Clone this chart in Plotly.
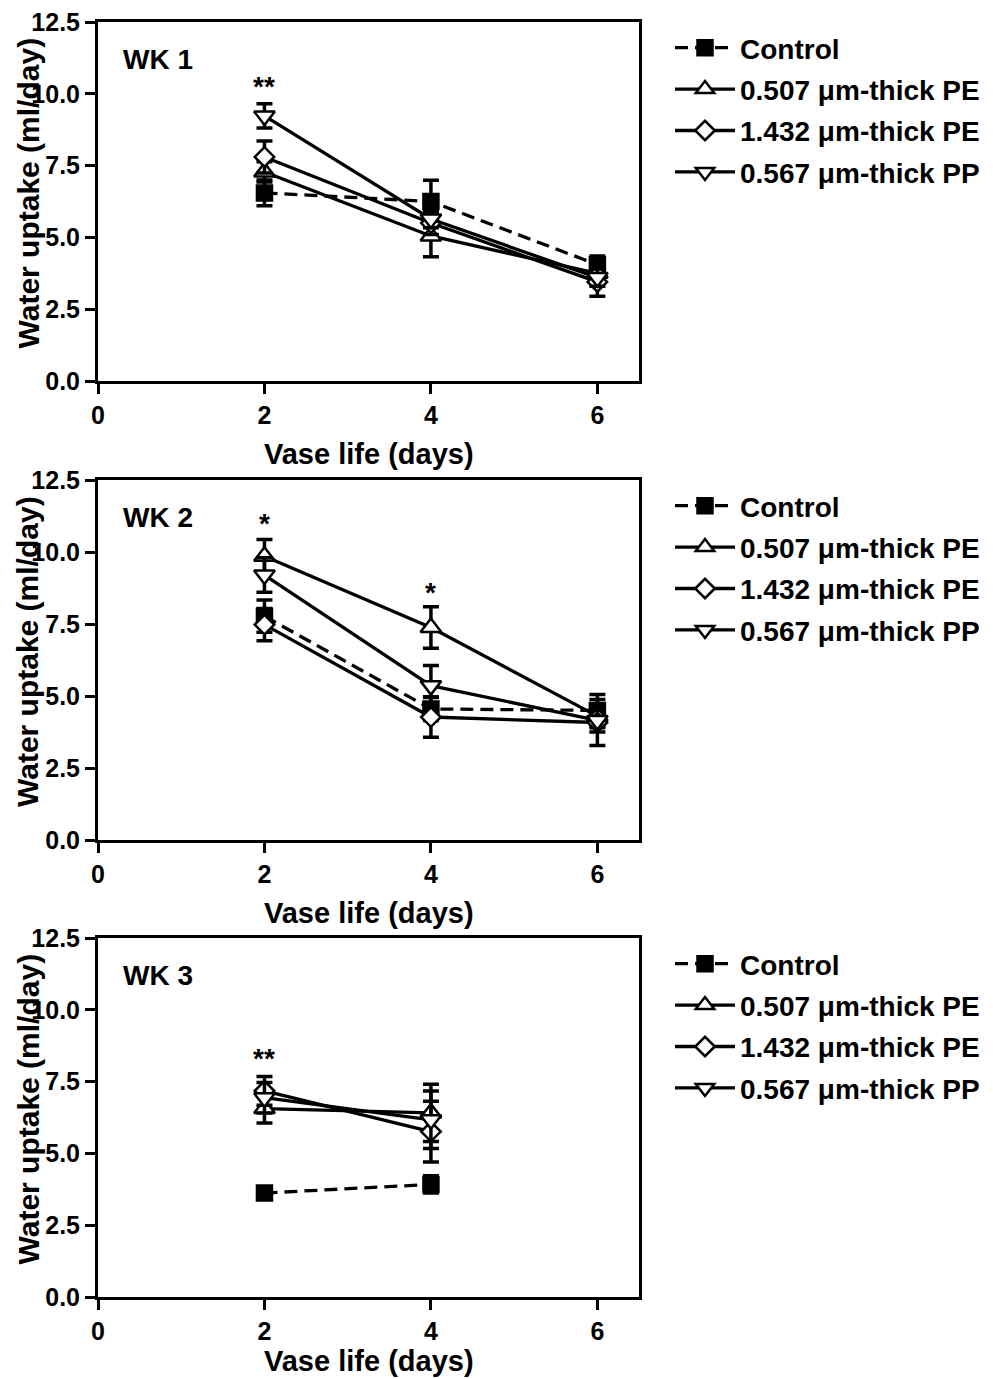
import plotly.graph_objects as go

# ---------------- data ----------------
series_names = ["Control", "0.507 μm-thick PE", "1.432 μm-thick PE", "0.567 μm-thick PP"]
panel_labels = ["WK 1", "WK 2", "WK 3"]

days_wk1 = [2, 4, 6]
days_wk2 = [2, 4, 6]
days_wk3 = [2, 4]

# WK 1 means and SEM
wk1_control = [6.55, 6.25, 4.05]
wk1_control_sem = [0.45, 0.74, 0.3]
wk1_pe0507 = [7.28, 5.05, 3.75]
wk1_pe0507_sem = [0.35, 0.72, 0.3]
wk1_pe1432 = [7.8, 5.5, 3.45]
wk1_pe1432_sem = [0.56, 0.4, 0.5]
wk1_pp0567 = [9.23, 5.64, 3.6]
wk1_pp0567_sem = [0.42, 0.3, 0.3]

# WK 2
wk2_control = [7.77, 4.55, 4.5]
wk2_control_sem = [0.56, 0.4, 0.55]
wk2_pe0507 = [9.85, 7.38, 4.3]
wk2_pe0507_sem = [0.58, 0.72, 0.4]
wk2_pe1432 = [7.48, 4.27, 4.08]
wk2_pe1432_sem = [0.56, 0.7, 0.8]
wk2_pp0567 = [9.2, 5.36, 4.15]
wk2_pp0567_sem = [0.6, 0.7, 0.4]

# WK 3
wk3_control = [3.62, 3.92]
wk3_control_sem = [0.1, 0.3]
wk3_pe0507 = [6.56, 6.41]
wk3_pe0507_sem = [0.5, 1.0]
wk3_pe1432 = [7.18, 5.76]
wk3_pe1432_sem = [0.5, 1.06]
wk3_pp0567 = [6.94, 6.17]
wk3_pp0567_sem = [0.53, 1.0]

x_ticks = [0, 2, 4, 6]
y_ticks = [0.0, 2.5, 5.0, 7.5, 10.0, 12.5]

# significance marks: (panel, x, y, text)
sig_marks = [
    (0, 2, 10.25, "**"),
    (1, 2, 11.0, "*"),
    (1, 4, 8.6, "*"),
    (2, 2, 8.3, "**"),
]

panels = [
    (days_wk1, [(wk1_control, wk1_control_sem), (wk1_pe0507, wk1_pe0507_sem),
                (wk1_pe1432, wk1_pe1432_sem), (wk1_pp0567, wk1_pp0567_sem)]),
    (days_wk2, [(wk2_control, wk2_control_sem), (wk2_pe0507, wk2_pe0507_sem),
                (wk2_pe1432, wk2_pe1432_sem), (wk2_pp0567, wk2_pp0567_sem)]),
    (days_wk3, [(wk3_control, wk3_control_sem), (wk3_pe0507, wk3_pe0507_sem),
                (wk3_pe1432, wk3_pe1432_sem), (wk3_pp0567, wk3_pp0567_sem)]),
]

# ---------------- style ----------------
W, H = 993, 1379
FONT = "Liberation Sans, Arial, sans-serif"
x_dom = [98 / W, 639 / W]
panel_px = [(22, 381), (480, 840), (938, 1297)]  # top, bottom in px
xtitle_offset = [73, 73, 64]

styles = [
    dict(symbol="square", size=15, color="black", dash="13px,7px"),
    dict(symbol="triangle-up", size=18, color="white", dash="solid"),
    dict(symbol="diamond", size=15, color="white", dash="solid"),
    dict(symbol="triangle-down", size=18, color="white", dash="solid"),
]

fig = go.Figure()
for p, (days, data) in enumerate(panels):
    sfx = "" if p == 0 else str(p + 1)
    for s, (vals, sem) in enumerate(data):
        st = styles[s]
        fig.add_trace(go.Scatter(
            x=days, y=vals,
            mode="lines+markers",
            name=series_names[s],
            xaxis="x" + sfx, yaxis="y" + sfx,
            legend="legend" + sfx,
            legendgroup=f"p{p}s{s}",
            line=dict(color="black", width=3.3, dash=st["dash"]),
            marker=dict(symbol=st["symbol"], size=st["size"], color=st["color"],
                        line=dict(color="black", width=2.5)),
            error_y=dict(type="data", array=sem, visible=True, color="black",
                         thickness=3.5, width=8),
            cliponaxis=False,
        ))

layout = dict(
    width=W, height=H,
    margin=dict(l=0, r=0, t=0, b=0, pad=0, autoexpand=False),
    paper_bgcolor="white", plot_bgcolor="white",
    font=dict(family=FONT, color="black"),
    showlegend=True,
)

axis_common = dict(
    showline=True, linewidth=3, linecolor="black", mirror=True,
    ticks="outside", ticklen=10, tickwidth=3, tickcolor="black",
    showgrid=False, zeroline=False, automargin=False,
    tickfont=dict(family=FONT, size=25, color="black", weight="bold"),
)

annotations = []
for p, (top, bot) in enumerate(panel_px):
    sfx = "" if p == 0 else str(p + 1)
    y_dom = [1 - bot / H, 1 - top / H]
    layout["xaxis" + sfx] = dict(axis_common, domain=x_dom, range=[0, 6.5],
                                 tickvals=x_ticks, anchor="y" + sfx)
    layout["yaxis" + sfx] = dict(axis_common, domain=y_dom, range=[0, 12.5],
                                 tickvals=y_ticks, tickformat=".1f",
                                 anchor="x" + sfx)
    layout["legend" + sfx] = dict(
        x=670 / W, y=1 - (top + 1) / H, xanchor="left", yanchor="top",
        font=dict(family=FONT, size=28, color="black", weight="bold"),
        bgcolor="rgba(0,0,0,0)", borderwidth=0,
        traceorder="grouped", tracegroupgap=2, itemwidth=60,
    )
    # panel label
    annotations.append(dict(
        text=panel_labels[p], x=0.28, y=11.2, xref="x" + sfx, yref="y" + sfx,
        xanchor="left", yanchor="middle", showarrow=False,
        font=dict(family=FONT, size=28, color="black", weight="bold"),
    ))
    # axis titles
    annotations.append(dict(
        text="Vase life (days)", x=369 / W, y=1 - (bot + xtitle_offset[p]) / H,
        xref="paper", yref="paper", xanchor="center", yanchor="middle",
        showarrow=False,
        font=dict(family=FONT, size=29, color="black", weight="bold"),
    ))
    annotations.append(dict(
        text="Water uptake (ml/day)", x=28 / W, y=1 - ((top + bot) / 2 - 8) / H,
        xref="paper", yref="paper", xanchor="center", yanchor="middle",
        textangle=-90, showarrow=False,
        font=dict(family=FONT, size=30, color="black", weight="bold"),
    ))

for (p, xv, yv, txt) in sig_marks:
    sfx = "" if p == 0 else str(p + 1)
    annotations.append(dict(
        text=txt, x=xv, y=yv, xref="x" + sfx, yref="y" + sfx,
        xanchor="center", yanchor="middle", showarrow=False,
        font=dict(family=FONT, size=28, color="black", weight="bold"),
    ))

layout["annotations"] = annotations
fig.update_layout(**layout)
fig.write_html("out.html")
